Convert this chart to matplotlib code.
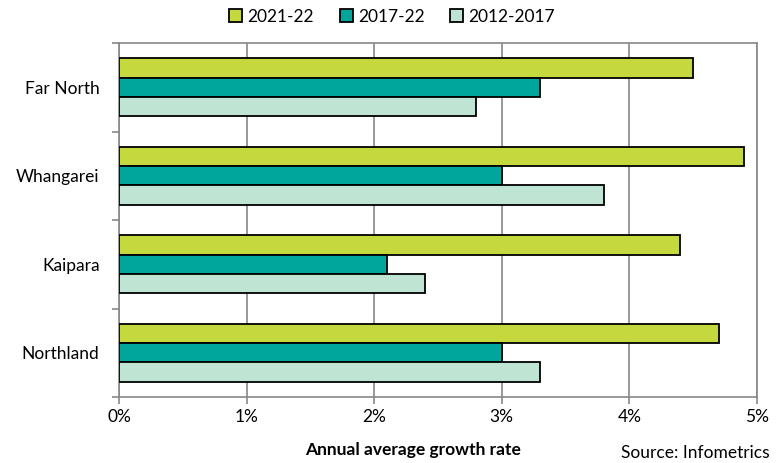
import numpy as np
import matplotlib
matplotlib.use("Agg")
import matplotlib.pyplot as plt
from matplotlib.ticker import FixedLocator, PercentFormatter

plt.rcParams['font.family'] = ['Lato', 'DejaVu Sans']

regions = ["Far North", "Whangarei", "Kaipara", "Northland"]
series_names = ["2021-22", "2017-22", "2012-2017"]
growth_2021_22 = [4.5, 4.9, 4.4, 4.7]
growth_2017_22 = [3.3, 3.0, 2.1, 3.0]
growth_2012_17 = [2.8, 3.8, 2.4, 3.3]
colors = ["#c5d93e", "#00a59c", "#bfe4d4"]

fig = plt.figure(figsize=(7.84, 4.63), dpi=100)
ax = fig.add_axes([119 / 784, 1 - 397 / 463, (757 - 119) / 784, (397 - 43) / 463])

pos = np.arange(len(regions))
h = 0.22
for i, (vals, name) in enumerate(zip([growth_2021_22, growth_2017_22, growth_2012_17], series_names)):
    ax.barh(pos + (i - 1) * h, vals, height=h, color=colors[i], edgecolor="black",
            linewidth=1.3, label=name, zorder=3)

ax.set_xlim(0, 5)
ax.set_ylim(len(regions) - 0.5, -0.5)
ax.set_yticks(pos)
ax.set_yticklabels(regions, fontsize=12.5)
ax.yaxis.set_minor_locator(FixedLocator(np.arange(-0.5, len(regions), 1)))
ax.tick_params(axis="y", which="major", length=0, pad=14)
ax.tick_params(axis="y", which="minor", length=5, color="#888888", width=1.2)
ax.set_xticks(np.arange(0, 6, 1))
ax.xaxis.set_major_formatter(PercentFormatter(decimals=0))
ax.tick_params(axis="x", labelsize=12.5, length=5, color="#888888", width=1.2, pad=4)
ax.grid(axis="x", color="#888888", linewidth=1.2, zorder=0)
for s in ax.spines.values():
    s.set_color("#888888")
    s.set_linewidth(1.2)

fig.legend(loc="upper center", bbox_to_anchor=(0.5, 1.015), ncol=3, frameon=False,
           fontsize=12.5, handlelength=0.75, handleheight=0.75, handletextpad=0.3,
           columnspacing=1.5)

fig.text(413 / 784, 1 - 450 / 463, "Annual average growth rate", ha="center", va="center",
         fontsize=12.5, fontweight="bold")
fig.text(770 / 784, 1 - 453 / 463, "Source: Infometrics", ha="right", va="center", fontsize=12.5)

fig.savefig("out.png", dpi=100)
